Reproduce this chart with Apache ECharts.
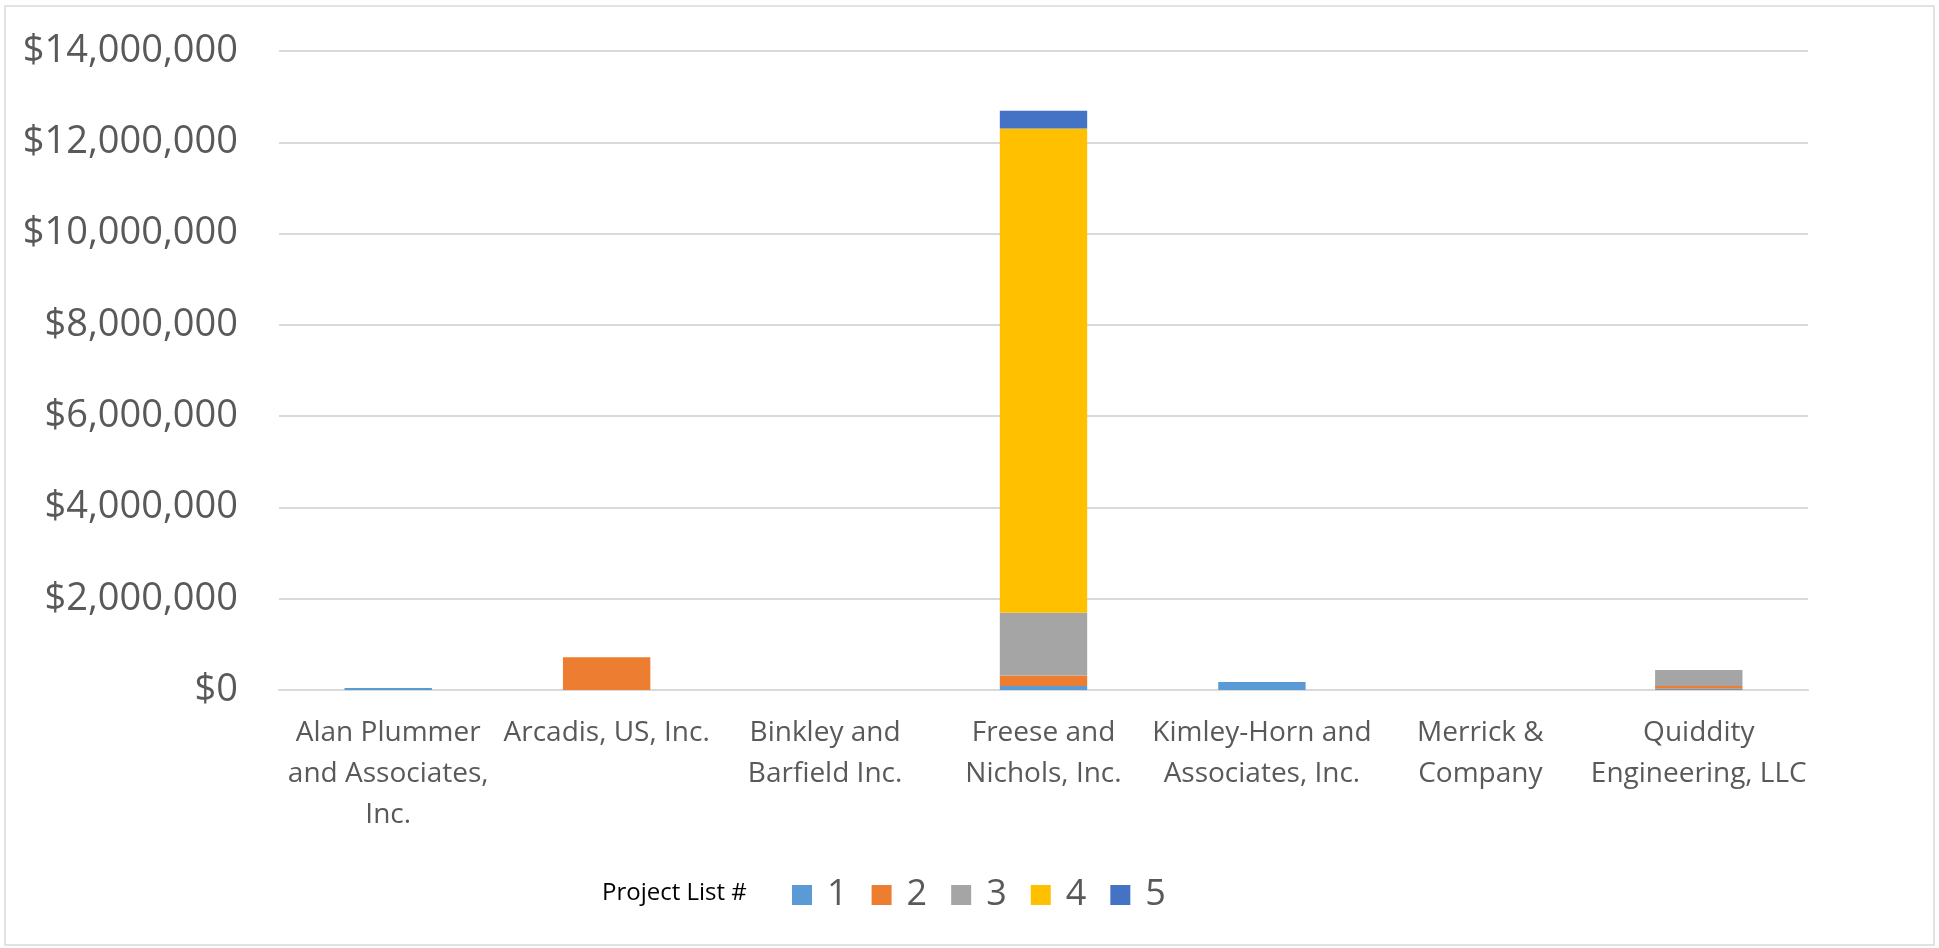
<!DOCTYPE html>
<html>
<head>
<meta charset="utf-8">
<script src="https://cdn.jsdelivr.net/npm/echarts@6/dist/echarts.min.js"></script>
<style>
html,body{margin:0;padding:0;background:#fff;}
#chart{width:1939px;height:948px;}
</style>
</head>
<body>
<div id="chart"></div>
<script>
const categories = [
  "Alan Plummer\nand Associates,\nInc.",
  "Arcadis, US, Inc.",
  "Binkley and\nBarfield Inc.",
  "Freese and\nNichols, Inc.",
  "Kimley-Horn and\nAssociates, Inc.",
  "Merrick &\nCompany",
  "Quiddity\nEngineering, LLC"
];
const seriesNames = ["1", "2", "3", "4", "5"];
const list1 = [45000, 0, 0, 90000, 175000, 0, 30000];
const list2 = [0, 720000, 0, 225000, 0, 0, 60000];
const list3 = [0, 0, 0, 1375000, 0, 0, 350000];
const list4 = [0, 0, 0, 10610000, 0, 0, 0];
const list5 = [0, 0, 0, 390000, 0, 0, 0];
const yTicks = { min: 0, max: 14000000, interval: 2000000 };
const colors = ["#5B9BD5", "#ED7D31", "#A5A5A5", "#FFC000", "#4472C4"];
const legendTitle = "Project List #";

const values = [list1, list2, list3, list4, list5];
const chart = echarts.init(document.getElementById('chart'), null, { renderer: 'canvas' });
const FONT = '"Open Sans", "Liberation Sans", sans-serif';

chart.setOption({
  backgroundColor: '#ffffff',
  animation: false,
  title: {
    text: legendTitle,
    left: 597,
    top: 876,
    textStyle: { fontFamily: FONT, fontSize: 24, fontWeight: 'normal', color: '#000000' }
  },
  graphic: [{
    type: 'rect',
    shape: { x: 5, y: 6, width: 1929, height: 939 },
    style: { fill: 'none', stroke: '#d9d9d9', lineWidth: 1.5 },
    silent: true
  }],
  legend: {
    data: seriesNames,
    left: 787,
    top: 872,
    icon: 'rect',
    itemWidth: 20,
    itemHeight: 20,
    itemGap: 24,
    textStyle: { fontFamily: FONT, fontSize: 36, color: '#595959', padding: [0, 0, 0, 10] }
  },
  grid: { left: 279, right: 131, top: 51, bottom: 258, containLabel: false },
  xAxis: {
    type: 'category',
    data: categories,
    axisLine: { show: true, lineStyle: { color: '#d9d9d9', width: 2 } },
    axisTick: { show: false },
    axisLabel: {
      interval: 0,
      margin: 23,
      fontFamily: FONT,
      fontSize: 28,
      lineHeight: 41,
      color: '#595959',
      align: 'center'
    }
  },
  yAxis: {
    type: 'value',
    min: yTicks.min,
    max: yTicks.max,
    interval: yTicks.interval,
    axisLine: { show: false },
    axisTick: { show: false },
    splitLine: { show: true, lineStyle: { color: '#d9d9d9', width: 2 } },
    axisLabel: {
      margin: 41,
      fontFamily: FONT,
      fontSize: 38,
      color: '#595959',
      formatter: v => '$' + v.toLocaleString('en-US')
    }
  },
  series: seriesNames.map((name, i) => ({
    name: name,
    type: 'bar',
    stack: 'total',
    barWidth: '40%',
    data: values[i],
    itemStyle: { color: colors[i] }
  }))
});
</script>
</body>
</html>
